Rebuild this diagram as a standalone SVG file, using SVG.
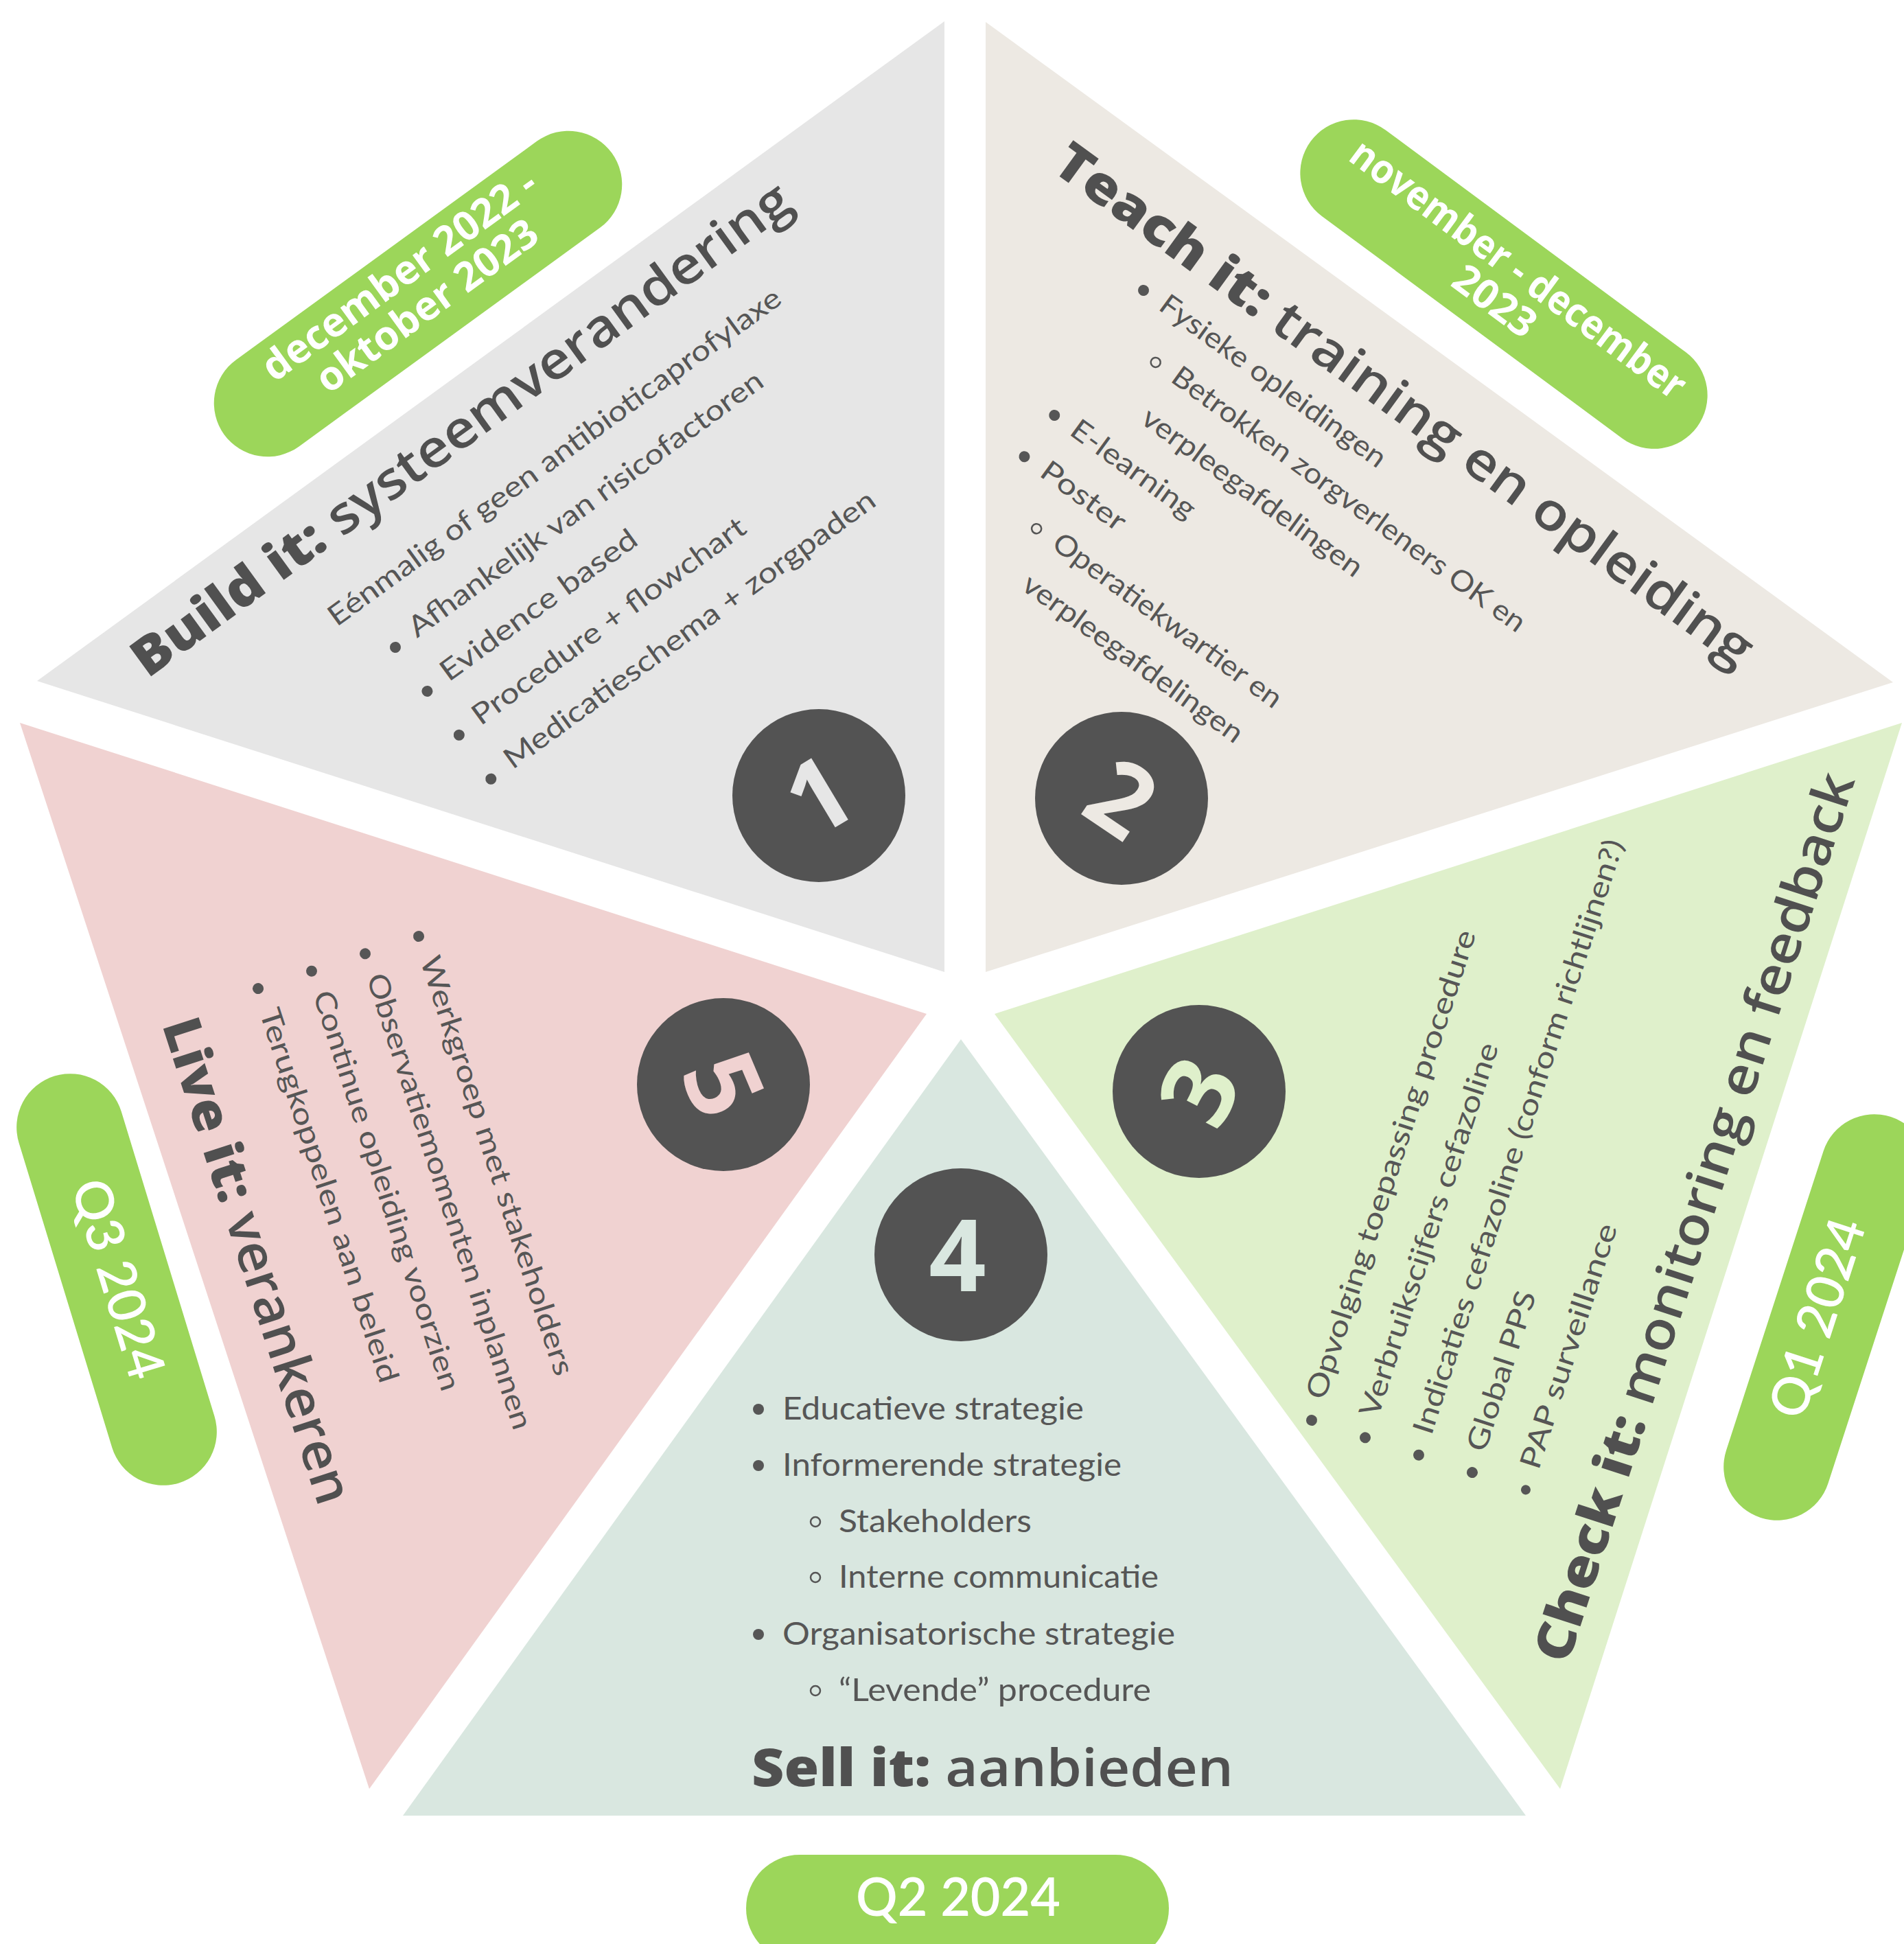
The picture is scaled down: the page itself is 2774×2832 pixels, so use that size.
<svg xmlns="http://www.w3.org/2000/svg" width="2774" height="2832" viewBox="0 0 2774 2832">
<style>
.t1{fill:#e6e6e6}.t2{fill:#ede9e3}.t3{fill:#dff0cb}.t4{fill:#d9e7e0}.t5{fill:#f0d2d1}
.circ{fill:#535353}
.num{font-family:"Open Sans","Liberation Sans",sans-serif;font-weight:700;font-size:146px;text-anchor:middle}
.title{font-family:"Open Sans","Liberation Sans",sans-serif;font-size:76px;fill:#505050}
.b{font-weight:800}.m{font-weight:600}
.li{font-family:Lato,"Noto Sans","Liberation Sans",sans-serif;font-size:42px;fill:#565656}
.li4{font-family:Lato,"Noto Sans","Liberation Sans",sans-serif;font-size:46px;fill:#565656}
.dot{fill:#565656}
.ring{fill:none;stroke:#565656;stroke-width:2.5}
.pill{fill:#9cd65a}
.pt{font-family:"Open Sans","Liberation Sans",sans-serif;font-weight:700;font-size:59px;fill:#ffffff;text-anchor:middle}
.qt{font-family:Lato,"Noto Sans","Liberation Sans",sans-serif;font-weight:600;font-size:76px;fill:#ffffff;text-anchor:middle}
</style>
<rect width="2774" height="2832" fill="#ffffff"/>

<g id="seg1">
  <polygon class="t1" points="1376,31 54,992 1376,1416"/>
  <text class="title" transform="translate(215,989) rotate(-36)" textLength="1167" lengthAdjust="spacingAndGlyphs"><tspan class="b">Build it:</tspan><tspan class="m"> systeemverandering</tspan></text>
  <g transform="translate(576,943) rotate(-36)">
    <text class="li" x="-52" y="-74" textLength="805" lengthAdjust="spacingAndGlyphs">Eénmalig of geen antibioticaprofylaxe</text>
    <circle class="dot" cx="0" cy="0" r="8"/>
    <text class="li" x="33" y="8" textLength="628" lengthAdjust="spacingAndGlyphs">Afhankelijk van risicofactoren</text>
    <circle class="dot" cx="0" cy="79" r="8"/>
    <text class="li" x="33" y="87" textLength="344" lengthAdjust="spacingAndGlyphs">Evidence based</text>
    <circle class="dot" cx="0" cy="158" r="8"/>
    <text class="li" x="33" y="166" textLength="482" lengthAdjust="spacingAndGlyphs">Procedure + flowchart</text>
    <circle class="dot" cx="0" cy="237" r="8"/>
    <text class="li" x="33" y="245" textLength="658" lengthAdjust="spacingAndGlyphs">Medicatieschema + zorgpaden</text>
  </g>
  <circle class="circ" cx="1193" cy="1159" r="126"/>
  <text class="num" fill="#e6e6e6" transform="translate(1193,1159) rotate(-31)" x="0" y="52">1</text>
  <rect class="pill" x="-349" y="-78" width="698" height="156" rx="78" transform="translate(609,428) rotate(-36)"/>
  <g transform="translate(609,428) rotate(-36)">
    <text class="pt" x="-6" y="-18">december 2022 -</text>
    <text class="pt" x="0" y="42">oktober 2023</text>
  </g>
</g>

<g id="seg2">
  <polygon class="t2" points="1436,32 2758,994 1436,1416"/>
  <text class="title" transform="translate(1530,247) rotate(36)" textLength="1238" lengthAdjust="spacingAndGlyphs"><tspan class="b">Teach it:</tspan><tspan class="m"> training en opleiding</tspan></text>
  <g transform="translate(1666,423) rotate(36)">
    <circle class="dot" cx="0" cy="0" r="8"/>
    <text class="li" x="32" y="10" textLength="397" lengthAdjust="spacingAndGlyphs">Fysieke opleidingen</text>
    <circle class="ring" cx="76" cy="74.5" r="7"/>
    <text class="li" x="108" y="84.5" textLength="626" lengthAdjust="spacingAndGlyphs">Betrokken zorgverleners OK en</text>
    <text class="li" x="108" y="159" textLength="387" lengthAdjust="spacingAndGlyphs">verpleegafdelingen</text>
    <circle class="dot" cx="2" cy="223.5" r="8"/>
    <text class="li" x="34" y="233.5" textLength="214" lengthAdjust="spacingAndGlyphs">E-learning</text>
    <circle class="dot" cx="2" cy="298" r="8"/>
    <text class="li" x="34" y="308" textLength="143" lengthAdjust="spacingAndGlyphs">Poster</text>
    <circle class="ring" cx="78" cy="372.5" r="7"/>
    <text class="li" x="110" y="382.5" textLength="402" lengthAdjust="spacingAndGlyphs">Operatiekwartier en</text>
    <text class="li" x="110" y="457" textLength="386" lengthAdjust="spacingAndGlyphs">verpleegafdelingen</text>
  </g>
  <circle class="circ" cx="1634" cy="1163" r="126"/>
  <text class="num" fill="#ede9e3" transform="translate(1634,1163) rotate(34)" x="0" y="52">2</text>
  <rect class="pill" x="-350" y="-78" width="700" height="156" rx="78" transform="translate(2191,414) rotate(36.5)"/>
  <g transform="translate(2191,414) rotate(36.5)">
    <text class="pt" x="4" y="-10" textLength="592" lengthAdjust="spacingAndGlyphs">november - december</text>
    <text class="pt" x="4" y="48">2023</text>
  </g>
</g>

<g id="seg3">
  <polygon class="t3" points="2771,1053 1449,1477 2273,2606"/>
  <text class="title" transform="translate(2284,2426) rotate(-72)" textLength="1356" lengthAdjust="spacingAndGlyphs"><tspan class="b">Check it:</tspan><tspan class="m"> monitoring en feedback</tspan></text>
  <g transform="translate(1911,2069) rotate(-72)">
    <circle class="dot" cx="0" cy="0" r="8"/>
    <text class="li" x="32" y="9" textLength="716" lengthAdjust="spacingAndGlyphs">Opvolging toepassing procedure</text>
    <circle class="dot" cx="0" cy="82" r="8"/>
    <text class="li" x="32" y="91" textLength="570" lengthAdjust="spacingAndGlyphs">Verbruikscijfers cefazoline</text>
    <circle class="dot" cx="0" cy="164" r="8"/>
    <text class="li" x="32" y="173" textLength="908" lengthAdjust="spacingAndGlyphs">Indicaties cefazoline (conform richtlijnen?)</text>
    <circle class="dot" cx="0" cy="246" r="8"/>
    <text class="li" x="32" y="255" textLength="243" lengthAdjust="spacingAndGlyphs">Global PPS</text>
    <circle class="dot" cx="0" cy="328" r="7"/>
    <text class="li" x="32" y="337" textLength="373" lengthAdjust="spacingAndGlyphs">PAP surveillance</text>
  </g>
  <circle class="circ" cx="1747" cy="1590" r="126"/>
  <text class="num" fill="#dff0cb" transform="translate(1747,1590) rotate(-63)" x="0" y="52">3</text>
  <rect class="pill" x="-307" y="-78" width="614" height="156" rx="78" transform="translate(2660,1919) rotate(-72)"/>
  <text class="qt" transform="translate(2660,1919) rotate(-72)" x="-5" y="15" textLength="300" lengthAdjust="spacingAndGlyphs">Q1 2024</text>
</g>

<g id="seg4">
  <polygon class="t4" points="1400,1514 587,2645 2223,2645"/>
  <text class="title" x="1095" y="2602" textLength="702" lengthAdjust="spacingAndGlyphs"><tspan class="b">Sell it:</tspan><tspan class="m"> aanbieden</tspan></text>
  <circle class="dot" cx="1105" cy="2053" r="8"/>
  <text class="li4" x="1140" y="2068" textLength="439" lengthAdjust="spacingAndGlyphs">Educatieve strategie</text>
  <circle class="dot" cx="1105" cy="2135" r="8"/>
  <text class="li4" x="1140" y="2150" textLength="494" lengthAdjust="spacingAndGlyphs">Informerende strategie</text>
  <circle class="ring" cx="1188" cy="2217" r="7"/>
  <text class="li4" x="1222" y="2232" textLength="281" lengthAdjust="spacingAndGlyphs">Stakeholders</text>
  <circle class="ring" cx="1188" cy="2298" r="7"/>
  <text class="li4" x="1222" y="2313" textLength="466" lengthAdjust="spacingAndGlyphs">Interne communicatie</text>
  <circle class="dot" cx="1105" cy="2381" r="8"/>
  <text class="li4" x="1140" y="2396" textLength="572" lengthAdjust="spacingAndGlyphs">Organisatorische strategie</text>
  <circle class="ring" cx="1188" cy="2463" r="7"/>
  <text class="li4" x="1222" y="2478" textLength="455" lengthAdjust="spacingAndGlyphs">“Levende” procedure</text>
  <circle class="circ" cx="1400" cy="1828" r="126"/>
  <text class="num" fill="#d9e7e0" x="1395" y="1881">4</text>
  <rect class="pill" x="1087" y="2702" width="616" height="156" rx="78"/>
  <text class="qt" x="1396" y="2791" textLength="298" lengthAdjust="spacingAndGlyphs">Q2 2024</text>
</g>

<g id="seg5">
  <polygon class="t5" points="29,1053 1350,1477 538,2606"/>
  <text class="title" transform="translate(236,1493) rotate(72)" textLength="740" lengthAdjust="spacingAndGlyphs"><tspan class="b">Live it:</tspan><tspan class="m"> verankeren</tspan></text>
  <g transform="translate(610,1364) rotate(72)">
    <circle class="dot" cx="0" cy="0" r="8"/>
    <text class="li" x="33" y="9" textLength="640" lengthAdjust="spacingAndGlyphs">Werkgroep met stakeholders</text>
    <circle class="dot" cx="0" cy="82" r="8"/>
    <text class="li" x="33" y="91" textLength="696" lengthAdjust="spacingAndGlyphs">Observatiemomenten inplannen</text>
    <circle class="dot" cx="0" cy="164" r="8"/>
    <text class="li" x="33" y="173" textLength="610" lengthAdjust="spacingAndGlyphs">Continue opleiding voorzien</text>
    <circle class="dot" cx="0" cy="246" r="8"/>
    <text class="li" x="33" y="255" textLength="571" lengthAdjust="spacingAndGlyphs">Terugkoppelen aan beleid</text>
  </g>
  <circle class="circ" cx="1054" cy="1580" r="126"/>
  <text class="num" fill="#f0d2d1" transform="translate(1054,1580) rotate(67)" x="0" y="52">5</text>
  <rect class="pill" x="-310" y="-78" width="620" height="156" rx="78" transform="translate(170,1864) rotate(73)"/>
  <text class="qt" transform="translate(170,1864) rotate(73)" x="0" y="24" textLength="300" lengthAdjust="spacingAndGlyphs">Q3 2024</text>
</g>

<g id="connectors"/>
</svg>
